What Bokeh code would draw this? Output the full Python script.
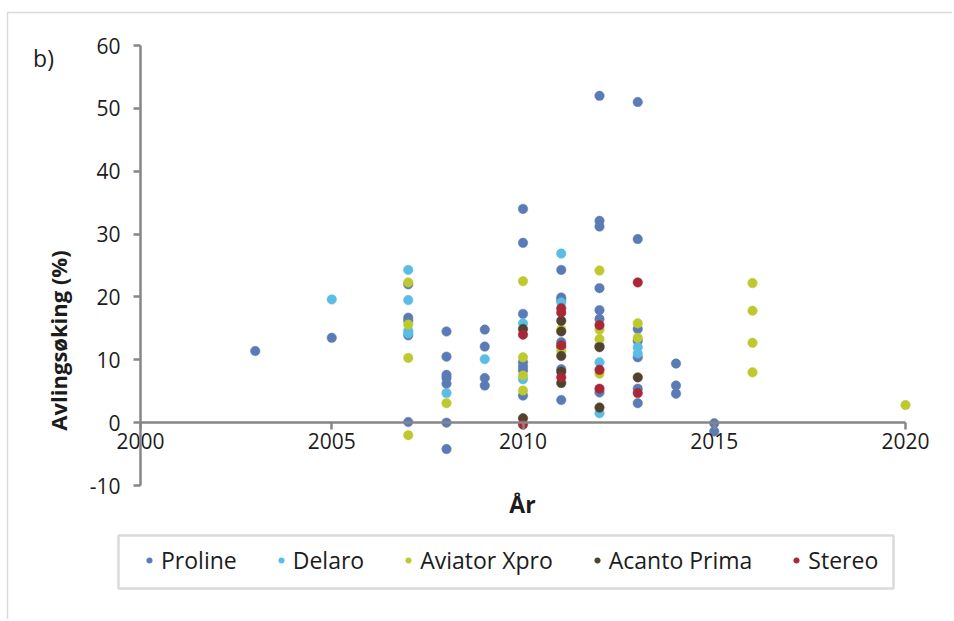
from bokeh.plotting import figure
from bokeh.models import (Range1d, FixedTicker, Label, Legend, LegendItem, BoxAnnotation)
from bokeh.embed import file_html
from bokeh.resources import INLINE
import math

# ---- data ----
series_names = ["Proline", "Delaro", "Aviator Xpro", "Acanto Prima", "Stereo"]
series_colors = ["#5B7BB4", "#5BBDE3", "#BDC92F", "#51412F", "#A92838"]

proline_x = [2003, 2005,
             2007, 2007, 2007, 2007, 2007,
             2008, 2008, 2008, 2008, 2008, 2008, 2008,
             2009, 2009, 2009, 2009,
             2010, 2010, 2010, 2010, 2010, 2010, 2010,
             2011, 2011, 2011, 2011, 2011, 2011, 2011,
             2012, 2012, 2012, 2012, 2012, 2012, 2012, 2012,
             2013, 2013, 2013, 2013, 2013, 2013, 2013,
             2014, 2014, 2014,
             2015, 2015]
proline_y = [11.4, 13.5,
             22.0, 16.7, 16.2, 13.9, 0.1,
             14.5, 10.5, 7.6, 7.1, 6.2, 0.0, -4.2,
             14.8, 12.1, 7.1, 5.9,
             34.0, 28.6, 17.3, 9.6, 8.9, 8.3, 4.3,
             24.3, 19.9, 19.5, 12.8, 12.0, 8.5, 3.6,
             52.0, 32.1, 31.2, 21.4, 17.9, 16.5, 12.2, 4.8,
             51.0, 29.2, 14.9, 13.0, 10.4, 5.4, 3.1,
             9.4, 5.9, 4.6,
             -0.1, -1.4]

delaro_x = [2005, 2007, 2007, 2007, 2007, 2008, 2009, 2010, 2010,
            2011, 2011, 2012, 2012, 2013, 2013]
delaro_y = [19.6, 24.3, 19.5, 14.6, 14.2, 4.7, 10.1, 15.8, 6.9,
            26.9, 19.1, 9.6, 1.5, 12.0, 11.0]

aviator_x = [2007, 2007, 2007, 2007, 2008,
             2010, 2010, 2010, 2010,
             2011, 2011,
             2012, 2012, 2012, 2012,
             2013, 2013,
             2016, 2016, 2016, 2016,
             2020]
aviator_y = [22.3, 15.6, 10.3, -2.0, 3.1,
             22.5, 10.4, 7.5, 5.1,
             14.8, 11.4,
             24.2, 14.8, 13.3, 7.8,
             15.8, 13.5,
             22.2, 17.8, 12.7, 8.0,
             2.8]

acanto_x = [2010, 2010, 2011, 2011, 2011, 2011, 2011, 2012, 2012, 2013]
acanto_y = [14.9, 0.7, 16.2, 14.5, 10.6, 8.1, 6.3, 12.0, 2.4, 7.2]

stereo_x = [2010, 2010, 2011, 2011, 2011, 2011, 2012, 2012, 2012, 2013, 2013]
stereo_y = [14.0, -0.3, 18.2, 17.5, 12.3, 7.2, 15.5, 8.4, 5.4, 22.3, 4.7]

x_ticks = [2000, 2005, 2010, 2015, 2020]
y_ticks = [-10, 0, 10, 20, 30, 40, 50, 60]

x_title = "År"
y_title = "Avlingsøking (%)"
panel_tag = "b)"

FONT = "Open Sans"
AXIS_GREY = "#868686"
TEXT = "#1c1c1c"

# ---- layout: frame covers the whole canvas; axes sit at fixed places ----
W, H = 952, 619
AX_LEFT, AX_RIGHT, AX_TOP, AX_BOTTOM = 140, 905, 45, 485   # pixel positions of axis ends
X_MIN, X_MAX = x_ticks[0], x_ticks[-1]
Y_MIN, Y_MAX = y_ticks[0], y_ticks[-1]
ppx = (AX_RIGHT - AX_LEFT) / (X_MAX - X_MIN)
ppy = (AX_BOTTOM - AX_TOP) / (Y_MAX - Y_MIN)
x_start = X_MIN - AX_LEFT / ppx
x_end = x_start + W / ppx
y_end = Y_MAX + AX_TOP / ppy
y_start = y_end - H / ppy


def X(px):
    return x_start + px / ppx


def Y(py):
    return y_end - py / ppy


p = figure(width=W, height=H, output_backend="svg", toolbar_location=None,
           x_range=Range1d(x_start, x_end), y_range=Range1d(y_start, y_end),
           min_border=0)
p.min_border_left = 0
p.min_border_right = 0
p.min_border_top = 0
p.min_border_bottom = 0
p.outline_line_color = None
p.xgrid.visible = False
p.ygrid.visible = False
p.background_fill_color = "white"
p.border_fill_color = "white"

# outer chart border (left and top edges visible)
p.add_layout(BoxAnnotation(left=X(7), top=Y(12), right=X(W + 20), bottom=Y(H + 20),
                           fill_color=None, line_color="#858585", line_width=1.4))

# axes
p.xaxis.fixed_location = 0
p.xaxis.bounds = (X_MIN, X_MAX)
p.yaxis.fixed_location = X_MIN
p.yaxis.bounds = (Y_MIN, Y_MAX)
p.xaxis.ticker = FixedTicker(ticks=x_ticks)
p.yaxis.ticker = FixedTicker(ticks=y_ticks)
p.yaxis.major_label_overrides = {t: str(t) for t in y_ticks}
for ax in (p.xaxis, p.yaxis):
    ax.axis_line_color = AXIS_GREY
    ax.axis_line_width = 2.5
    ax.major_tick_line_color = AXIS_GREY
    ax.major_tick_line_width = 2.5
    ax.major_tick_out = 7
    ax.major_tick_in = 0
    ax.minor_tick_line_color = None
    ax.major_label_text_font = FONT
    ax.major_label_text_font_size = "21px"
    ax.major_label_text_color = TEXT
p.xaxis.major_label_standoff = 3
p.yaxis.major_label_standoff = 13

# series
xs = [proline_x, delaro_x, aviator_x, acanto_x, stereo_x]
ys = [proline_y, delaro_y, aviator_y, acanto_y, stereo_y]
items = []
for name, color, sx, sy in zip(series_names, series_colors, xs, ys):
    r = p.scatter(sx, sy, size=9.5, marker="circle", fill_color=color,
                  line_color=color, line_width=0.5)
    items.append(LegendItem(label=name, renderers=[r]))

# legend frame drawn separately, legend itself without border
p.add_layout(BoxAnnotation(left=X(118), right=X(893), top=Y(535), bottom=Y(588),
                           fill_color="white", fill_alpha=1,
                           line_color=AXIS_GREY, line_width=2.5))
legend = Legend(items=items, orientation="horizontal", location=(142, H - 576),
                label_text_font=FONT, label_text_font_size="23px",
                label_text_color=TEXT, glyph_width=14, glyph_height=14,
                label_standoff=5, spacing=37, padding=5,
                border_line_color=None, background_fill_alpha=0)
p.add_layout(legend)

# texts
p.add_layout(Label(x=X(57), y=Y(340), text=y_title, angle=math.pi / 2,
                   text_align="center", text_baseline="middle",
                   text_font=FONT, text_font_size="22px", text_font_style="bold",
                   text_color=TEXT))
p.add_layout(Label(x=X(522), y=Y(503), text=x_title,
                   text_align="center", text_baseline="middle",
                   text_font=FONT, text_font_size="23px", text_font_style="bold",
                   text_color=TEXT))
p.add_layout(Label(x=X(43), y=Y(57), text=panel_tag,
                   text_align="center", text_baseline="middle",
                   text_font=FONT, text_font_size="23px",
                   text_color=TEXT))

open("out.html", "w").write(file_html(p, INLINE))
